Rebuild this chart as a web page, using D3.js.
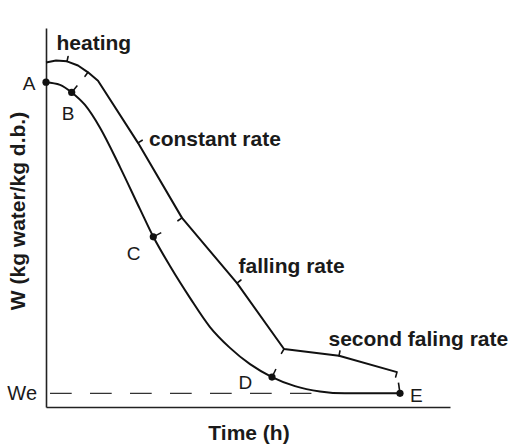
<!DOCTYPE html>
<html>
<head>
<meta charset="utf-8">
<script src="https://cdn.jsdelivr.net/npm/d3@7/dist/d3.min.js"></script>
<style>
  html, body { margin: 0; padding: 0; background: #fff; }
  svg { display: block; }
  text { font-family: "Liberation Sans", Arial, Helvetica, sans-serif; fill: #1a1a1a; }
</style>
</head>
<body>
<svg id="chart" width="511" height="446"></svg>
<script>
// Drying curve: moisture content W against time, with the drying phases
// marked by braces on an offset guide line above the curve.

// Moisture content of the solid (kg water / kg dry basis) over time (h)
const lowerTime = [0, 0.347, 0.636, 0.965, 1.337, 1.832, 2.327, 2.656, 3.069, 3.564, 4.059, 4.554, 5.050, 5.594, 6.163, 6.782, 7.401, 8.762];
const lowerW    = [0.857, 0.850, 0.830, 0.797, 0.737, 0.633, 0.522, 0.449, 0.372, 0.288, 0.211, 0.156, 0.113, 0.079, 0.055, 0.041, 0.036, 0.036];

// Guide line carrying the phase braces
const upperTime = [0, 0.248, 0.520, 0.792, 1.040, 1.287, 2.277, 3.366, 4.728, 5.891, 7.252, 8.688];
const upperW    = [0.909, 0.914, 0.912, 0.901, 0.883, 0.861, 0.697, 0.499, 0.327, 0.153, 0.135, 0.092];

// Brace centres (one per phase) and brace ends, as times on the guide line
const braceMidTime = [0.520, 2.277, 4.728, 7.252];
const braceEndTime = [1.040, 3.366, 5.891, 8.688];
const phaseLabels  = ["heating", "constant rate", "falling rate", "second faling rate"];

// Characteristic points on the drying curve
const pointLabels = ["A", "B", "C", "D", "E"];
const pointIndex  = [0, 2, 7, 13, 17];
const tickedPoints = ["B", "C", "D"];

// Equilibrium moisture content
const equilibriumW = 0.036;
const equilibriumLabel = "We";
const equilibriumSpan = [0.099, 6.57];

const xTitle = "Time (h)";
const yTitle = "W (kg water/kg d.b.)";

const svg = d3.select("#chart");

const x = d3.scaleLinear().domain([0, 10]).range([46, 450]);
const y = d3.scaleLinear().domain([0, 1]).range([407, 28]);

// Axes: bare lines, no ticks
svg.append("g")
  .attr("transform", `translate(0,${y(0)})`)
  .call(d3.axisBottom(x).ticks(0).tickSizeOuter(0))
  .call(g => g.select(".domain").attr("stroke", "#222").attr("stroke-width", 1.6));
svg.append("g")
  .attr("transform", `translate(${x(0)},0)`)
  .call(d3.axisLeft(y).ticks(0).tickSizeOuter(0))
  .call(g => g.select(".domain").attr("stroke", "#222").attr("stroke-width", 1.6));

// Axis titles
svg.append("text")
  .attr("x", 249).attr("y", 440)
  .attr("text-anchor", "middle")
  .style("font-size", "21px").style("font-weight", "bold")
  .text(xTitle);
svg.append("text")
  .attr("transform", `translate(25,211) rotate(-90)`)
  .attr("text-anchor", "middle")
  .style("font-size", "21px").style("font-weight", "bold")
  .text(yTitle);

// Equilibrium moisture line
svg.append("line")
  .attr("x1", x(equilibriumSpan[0])).attr("x2", x(equilibriumSpan[1]))
  .attr("y1", y(equilibriumW)).attr("y2", y(equilibriumW))
  .attr("stroke", "#333").attr("stroke-width", 1.4)
  .attr("stroke-dasharray", "21.7 18.3");
svg.append("text")
  .attr("x", x(0) - 9).attr("y", y(equilibriumW) + 7)
  .attr("text-anchor", "end")
  .style("font-size", "20px")
  .text(equilibriumLabel);

// Drying curve
const lowerPts = lowerTime.map((t, i) => [x(t), y(lowerW[i])]);
svg.append("path")
  .attr("d", d3.line().curve(d3.curveMonotoneX)(lowerPts))
  .attr("fill", "none").attr("stroke", "#111").attr("stroke-width", 2);

// Guide line
const upperPts = upperTime.map((t, i) => [x(t), y(upperW[i])]);
svg.append("path")
  .attr("d", d3.line()(upperPts))
  .attr("fill", "none").attr("stroke", "#111").attr("stroke-width", 2)
  .attr("stroke-linejoin", "round");

// Helpers: position and upper-side normal along a pixel polyline
function along(pts, px) {
  for (let i = 0; i < pts.length - 1; i++) {
    const [x0, y0] = pts[i], [x1, y1] = pts[i + 1];
    if (px >= x0 - 1e-6 && px <= x1 + 1e-6) {
      const f = x1 === x0 ? 0 : (px - x0) / (x1 - x0);
      return [x0 + f * (x1 - x0), y0 + f * (y1 - y0), i];
    }
  }
  return [...pts[pts.length - 1], pts.length - 1];
}
function vertexAt(pts, px) {
  return pts.findIndex(p => Math.abs(p[0] - px) < 0.01);
}
function normalAt(pts, px) {
  const [qx, qy, i] = along(pts, px);
  const seg = k => {
    if (k < 0 || k >= pts.length - 1) return null;
    const dx = pts[k + 1][0] - pts[k][0], dy = pts[k + 1][1] - pts[k][1];
    const L = Math.hypot(dx, dy);
    return [dx / L, dy / L];
  };
  const v = vertexAt(pts, qx);
  const dirs = (v >= 0 ? [seg(v - 1), seg(v)] : [seg(i)]).filter(Boolean);
  let dx = d3.sum(dirs, d => d[0]), dy = d3.sum(dirs, d => d[1]);
  const L = Math.hypot(dx, dy);
  dx /= L; dy /= L;
  return { p: [qx, qy], n: [dy, -dx] };
}

// Brace centres point outward (towards the labels), brace ends curl inward
braceMidTime.forEach(t => {
  const { p, n } = normalAt(upperPts, x(t));
  svg.append("line")
    .attr("x1", p[0]).attr("y1", p[1])
    .attr("x2", p[0] + n[0] * 5).attr("y2", p[1] + n[1] * 5)
    .attr("stroke", "#111").attr("stroke-width", 1.6).attr("stroke-linecap", "round");
});
braceEndTime.forEach(t => {
  const { p, n } = normalAt(upperPts, x(t));
  svg.append("line")
    .attr("x1", p[0]).attr("y1", p[1])
    .attr("x2", p[0] - n[0] * 5).attr("y2", p[1] - n[1] * 5)
    .attr("stroke", "#111").attr("stroke-width", 1.6).attr("stroke-linecap", "round");
});

// Phase labels, set off from their brace centres
const phaseOffsets = [[-10.5, -11.5], [11, 3], [1.5, -10], [-10.5, -9.5]];
braceMidTime.forEach((t, i) => {
  const [px, py] = along(upperPts, x(t));
  svg.append("text")
    .attr("x", px + phaseOffsets[i][0]).attr("y", py + phaseOffsets[i][1])
    .style("font-size", "21px").style("font-weight", "bold")
    .text(phaseLabels[i]);
});

// Pointer from the end of the last brace down to E
{
  const endPt = upperPts[upperPts.length - 1];
  const e = lowerPts[pointIndex[pointLabels.indexOf("E")]];
  const dx = e[0] - endPt[0], dy = e[1] - endPt[1], L = Math.hypot(dx, dy);
  const s = 10.5;
  svg.append("line")
    .attr("x1", endPt[0] + dx / L * s).attr("y1", endPt[1] + dy / L * s)
    .attr("x2", e[0]).attr("y2", e[1])
    .attr("stroke", "#111").attr("stroke-width", 1.6);
}

// Ticks on the drying curve at B, C, D
pointLabels.forEach((lab, k) => {
  if (!tickedPoints.includes(lab)) return;
  const i = pointIndex[k];
  const a = lowerPts[Math.max(i - 1, 0)], b = lowerPts[Math.min(i + 1, lowerPts.length - 1)];
  let dx = b[0] - a[0], dy = b[1] - a[1];
  const L = Math.hypot(dx, dy); dx /= L; dy /= L;
  const p = lowerPts[i];
  svg.append("line")
    .attr("x1", p[0]).attr("y1", p[1])
    .attr("x2", p[0] + dy * 9).attr("y2", p[1] - dx * 9)
    .attr("stroke", "#111").attr("stroke-width", 1.5);
});

// Points and their letters
const letterOffsets = { A: [-10.5, 8, "end"], B: [-10, 27.5, "start"], C: [-26.5, 23.5, "start"],
                        D: [-33.5, 11.5, "start"], E: [10, 8.5, "start"] };
pointLabels.forEach((lab, k) => {
  const p = lowerPts[pointIndex[k]];
  svg.append("circle")
    .attr("cx", p[0]).attr("cy", p[1]).attr("r", 3.6)
    .attr("fill", "#111");
  const o = letterOffsets[lab];
  svg.append("text")
    .attr("x", p[0] + o[0]).attr("y", p[1] + o[1])
    .attr("text-anchor", o[2])
    .style("font-size", "19px")
    .text(lab);
});
</script>
</body>
</html>
